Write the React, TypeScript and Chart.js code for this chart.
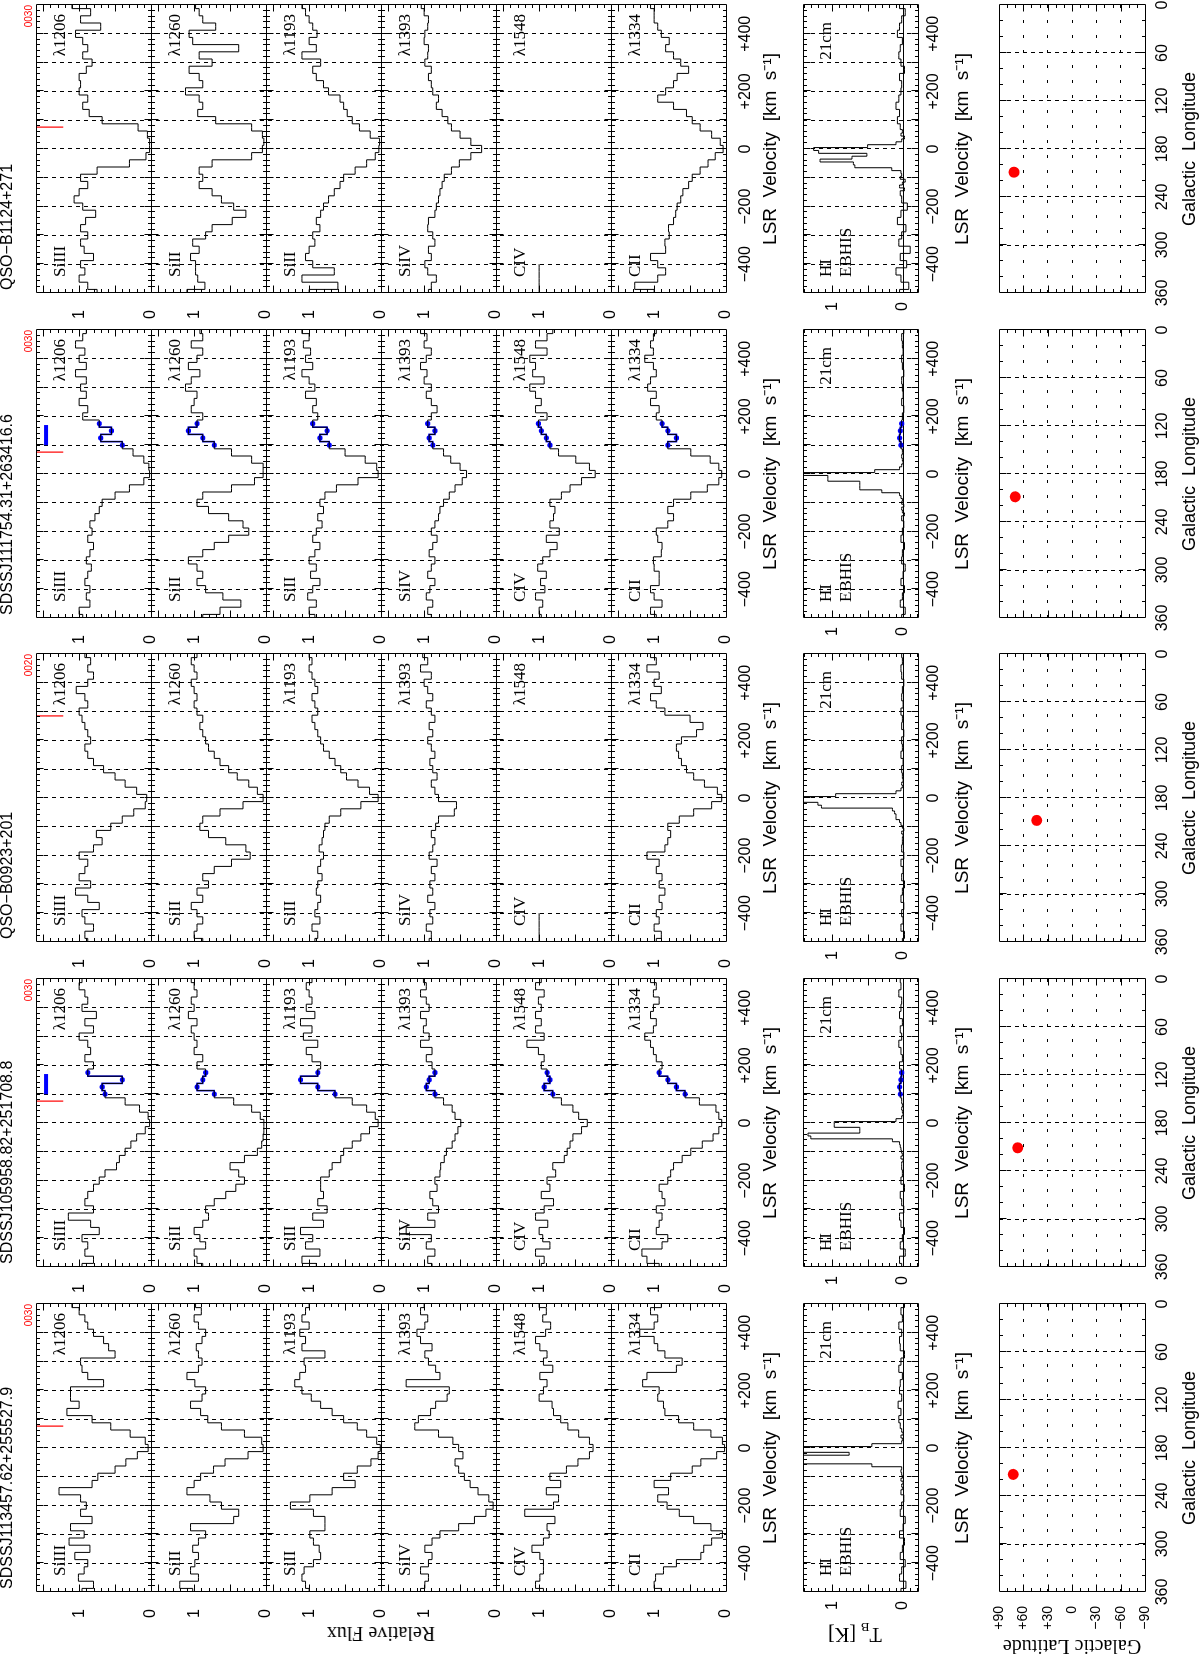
import React, { useEffect, useRef } from 'react';
import { Chart, registerables } from 'chart.js';

Chart.register(...registerables);

// ---------------- data ----------------
const VEL = [-500,-475,-450,-425,-400,-375,-350,-325,-300,-275,-250,-225,-200,-175,-150,-125,-100,-75,-50,-25,0,25,50,75,100,125,150,175,200,225,250,275,300,325,350,375,400,425,450,475,500];
const HI_VEL = [-500,-475,-450,-425,-400,-375,-350,-325,-300,-275,-250,-225,-200,-175,-150,-140,-130,-120,-110,-100,-90,-80,-70,-60,-50,-40,-30,-20,-10,0,10,20,30,40,50,60,75,100,125,150,175,200,225,250,275,300,325,350,375,400,425,450,475,500];

const SIGHTLINES = ['SDSSJ113457.62+255527.9', 'SDSSJ105958.82+251708.8', 'QSO\u2212B0923+201', 'SDSSJ111754.31+263416.6', 'QSO\u2212B1124+271'];
const SIGHTLINE_TAGS = ['0030', '0030', '0020', '0030', '0030'];
const ION_NAMES = ['SiIII', 'SiII', 'SiII', 'SiIV', 'CIV', 'CII'];
const ION_LINES = ['\u03BB1206', '\u03BB1260', '\u03BB1193', '\u03BB1393', '\u03BB1548', '\u03BB1334'];
const GAL_L = [213, 211, 208, 208.5, 209];
const GAL_B = [72.5, 67, 43.5, 70, 71.5];
const RED_MARK_V = [76, 76, 285, 76, 76];
const RED_MARK_FLUX = [1.6, 1.22];
const HAS_HVC = [false, true, false, true, false];
const HVC_BIN_VEL = [100, 125, 150, 175];
const HVC_BAR_V = [100, 170];
const HVC_BAR_FLUX = 1.46;
const VEL_TICKS = [-400, -300, -200, -100, 0, 100, 200, 300, 400];
const FLUX_TICKS = [0, 1];
const LON_TICKS = [0, 60, 120, 180, 240, 300, 360];
const LAT_TICKS = [-90, -60, -30, 0, 30, 60, 90];

const J1134_SIIII = [0.96,0.80,1.01,0.93,0.88,1.06,0.85,1.14,0.93,1.12,0.82,0.98,0.90,0.98,1.28,0.82,0.74,0.50,0.35,0.19,0.04,0.08,0.29,0.56,0.82,1.17,1.00,1.12,1.12,0.66,0.88,0.96,0.98,0.50,0.59,0.66,0.80,0.88,0.92,1.00,1.10];
const J1134_SIII1260 = [1.02,1.20,0.94,1.05,0.99,0.94,1.02,0.94,0.84,1.05,0.45,0.38,0.62,0.78,1.10,1.00,0.91,0.73,0.57,0.25,0.04,0.06,0.30,0.62,0.81,0.91,1.05,0.89,0.84,0.99,1.10,0.94,0.89,0.94,0.97,0.89,0.84,0.94,1.00,0.90,0.98];
const J1134_SIII1193 = [1.00,1.05,1.10,1.07,0.94,0.84,0.86,0.94,0.99,0.78,0.78,0.94,1.26,0.99,0.68,0.36,0.52,0.33,0.14,0.04,0.01,0.06,0.20,0.33,0.52,0.68,0.84,0.97,1.10,1.20,1.13,1.05,1.07,0.78,1.10,1.05,1.13,1.00,1.10,1.05,1.00];
const J1134_SIIV = [1.05,0.99,0.94,1.05,0.94,0.89,0.99,0.89,0.78,0.52,0.30,0.14,0.04,0.10,0.25,0.36,0.44,0.52,0.57,0.46,0.52,0.60,0.80,1.13,1.08,0.91,0.84,0.68,0.65,1.25,0.78,0.84,0.94,0.99,0.89,1.05,1.10,0.99,0.95,1.05,1.00];
const J1134_CIV = [0.94,1.05,0.99,0.94,0.94,0.99,1.10,0.94,0.86,0.89,0.78,1.20,0.80,0.73,0.90,0.70,0.85,0.62,0.46,0.30,0.25,0.30,0.45,0.60,0.70,0.80,0.82,1.00,0.94,0.89,0.99,0.81,0.94,0.89,0.99,1.05,0.91,0.84,0.95,0.90,1.00];
const J1134_CII = [0.90,1.00,0.98,0.87,0.69,0.35,0.31,0.20,0.05,0.21,0.45,0.65,0.82,0.95,0.80,1.00,0.77,0.47,0.35,0.13,0.02,0.05,0.21,0.45,0.66,0.85,0.87,0.95,0.93,1.16,1.10,0.69,0.61,0.85,0.95,1.00,1.20,1.00,0.95,1.05,0.90];

const J1059_SIIII = [0.96,0.80,0.92,0.88,0.96,0.72,0.84,1.15,0.80,0.92,0.88,0.80,0.72,0.64,0.48,0.44,0.36,0.28,0.20,0.08,0.02,0.04,0.16,0.36,0.64,0.68,0.40,0.88,0.80,0.92,0.84,0.88,1.00,0.80,0.92,0.76,0.96,0.88,0.92,1.00,0.96];
const J1059_SIII1260 = [0.88,0.96,1.00,0.84,0.92,1.00,0.88,0.80,0.84,0.72,0.56,0.42,0.30,0.38,0.50,0.30,0.12,0.06,0.04,0.03,0.03,0.08,0.20,0.45,0.72,0.96,0.88,0.84,0.96,0.88,1.00,0.96,1.00,1.04,0.96,1.08,1.00,1.04,0.96,1.00,1.04];
const J1059_SIII1193 = [0.90,1.10,0.85,1.05,0.95,1.12,0.80,0.95,0.75,0.88,0.80,0.84,0.84,0.72,0.68,0.56,0.52,0.40,0.28,0.16,0.04,0.08,0.20,0.40,0.64,0.88,1.12,0.88,0.84,0.96,1.04,0.88,1.08,0.96,1.12,0.92,1.04,0.96,1.00,1.04,0.96];
const J1059_SIIV = [0.89,0.95,0.85,0.97,0.90,1.25,0.85,0.95,0.80,0.88,0.92,0.82,0.85,0.78,0.77,0.72,0.69,0.61,0.57,0.53,0.49,0.57,0.61,0.73,0.85,0.97,0.93,0.85,0.89,0.97,0.89,1.05,0.93,1.01,0.97,1.05,0.93,0.97,1.05,0.97,1.01];
const J1059_CIV = [0.97,0.93,1.05,0.85,0.95,1.00,0.88,1.05,0.93,0.80,0.97,0.85,0.89,0.77,0.81,0.65,0.61,0.57,0.53,0.41,0.33,0.45,0.53,0.69,0.81,0.93,0.85,0.89,0.97,0.93,1.01,1.17,0.93,1.05,0.97,1.05,0.97,1.01,0.93,1.05,0.97];
const J1059_CII = [0.93,1.10,1.17,0.89,0.81,0.97,0.93,0.89,0.97,0.85,0.89,0.93,0.81,0.77,0.73,0.61,0.49,0.33,0.18,0.10,0.06,0.10,0.14,0.37,0.57,0.69,0.81,0.93,0.89,0.97,1.01,1.05,1.13,1.01,0.97,1.05,1.01,0.93,1.01,0.97,1.05];

const B0923_SIIII = [0.88,0.92,0.80,0.92,0.96,0.72,0.88,1.05,0.84,1.00,0.92,0.88,1.00,0.80,0.68,0.76,0.56,0.40,0.24,0.08,0.06,0.20,0.36,0.50,0.66,0.80,0.88,0.92,0.84,0.88,0.92,0.96,1.00,0.88,0.92,1.04,0.88,0.80,0.88,0.84,0.92];
const B0923_SIII1260 = [0.88,1.00,0.96,0.88,0.96,1.04,0.88,0.96,0.80,0.88,0.72,0.48,0.22,0.28,0.56,0.80,0.92,0.88,0.64,0.32,0.04,0.12,0.24,0.40,0.52,0.64,0.72,0.80,0.84,0.88,0.92,0.88,0.96,1.00,0.96,1.00,1.04,0.96,1.00,1.04,0.96];
const B0923_SIII1193 = [0.92,0.88,0.96,0.85,0.92,0.88,0.84,0.90,0.88,0.82,0.88,0.84,0.80,0.86,0.82,0.80,0.78,0.72,0.56,0.28,0.04,0.16,0.32,0.48,0.56,0.64,0.72,0.80,0.84,0.88,0.92,0.96,0.88,0.92,0.96,0.88,0.92,0.96,1.00,0.96,1.00];
const B0923_SIIV = [0.93,0.90,0.97,0.88,0.92,0.85,0.95,0.88,0.92,0.85,0.90,0.82,0.93,0.88,0.85,0.90,0.84,0.80,0.58,0.55,0.80,0.85,0.90,0.82,0.88,0.92,0.85,0.90,0.95,0.88,0.93,0.85,0.90,0.97,0.88,0.95,1.00,0.90,1.05,0.95,1.02];
const B0923_CIV = [1,1,1,1,1,null,null,null,null,null,null,null,null,null,null,null,null,null,null,null,null,null,null,null,null,null,null,null,null,null,null,null,null,null,null,null,null,null,null,null,null];
const B0923_CII = [0.97,0.90,1.00,0.93,0.97,0.89,0.93,0.85,0.93,0.89,0.97,0.93,1.10,0.85,0.81,0.77,0.81,0.65,0.45,0.20,0.06,0.12,0.30,0.45,0.55,0.62,0.66,0.69,0.62,0.41,0.32,0.50,0.85,0.97,1.05,0.90,1.00,0.93,1.10,0.97,1.05];

const J1117_SIIII = [0.95,1.00,0.85,0.90,0.85,0.92,0.88,0.83,0.90,0.85,0.80,0.88,0.82,0.85,0.78,0.72,0.68,0.50,0.30,0.10,0.02,0.03,0.10,0.25,0.40,0.70,0.55,0.72,0.95,0.88,1.00,0.90,0.98,0.90,1.05,0.90,1.00,0.92,1.05,0.95,0.90];
const J1117_SIII1260 = [0.88,0.64,0.35,0.60,0.84,0.96,0.88,0.96,1.08,0.88,0.72,0.52,0.24,0.32,0.52,0.80,0.96,0.88,0.48,0.16,0.04,0.04,0.20,0.48,0.72,0.88,1.08,0.96,0.88,1.04,1.00,0.96,1.12,1.04,0.92,1.08,0.96,0.88,1.04,0.88,0.92];
const J1117_SIII1193 = [0.92,1.00,0.90,1.02,0.95,0.85,0.98,0.90,1.00,0.92,0.85,0.95,0.90,0.82,0.88,0.80,0.85,0.78,0.62,0.32,0.04,0.06,0.22,0.50,0.72,0.85,0.75,0.95,0.88,0.95,0.90,1.05,0.92,1.00,1.10,0.95,1.05,0.98,1.08,1.00,1.10];
const J1117_SIIV = [0.90,0.95,0.88,0.97,0.92,0.85,0.95,0.90,0.85,0.93,0.88,0.82,0.90,0.85,0.80,0.78,0.73,0.65,0.57,0.47,0.41,0.50,0.63,0.73,0.88,0.93,0.85,0.95,0.90,0.82,0.90,0.97,0.90,1.00,0.96,1.05,0.97,0.90,1.00,0.96,1.05];
const J1117_CIV = [0.97,1.00,0.95,1.05,0.92,0.98,0.90,1.02,0.95,0.85,0.75,0.90,0.72,0.85,0.80,0.78,0.85,0.69,0.57,0.41,0.22,0.30,0.49,0.73,0.85,0.90,0.97,1.01,0.89,1.05,0.97,1.05,1.13,0.93,1.09,1.05,1.13,0.89,1.05,0.89,0.81];
const J1117_CII = [0.97,1.05,0.89,1.00,1.05,0.93,0.93,1.00,1.01,0.90,0.89,0.95,0.97,0.81,0.73,0.81,0.73,0.49,0.26,0.10,0.06,0.10,0.22,0.49,0.81,0.69,0.81,0.89,0.97,0.93,1.05,0.97,1.09,1.05,0.97,1.01,1.13,1.01,1.05,1.01,0.97];

const B1124_SIIII = [0.75,0.88,1.00,0.92,0.98,0.80,0.93,0.98,0.88,0.98,0.91,0.77,0.95,1.07,1.00,0.88,0.98,0.75,0.30,0.07,0.02,0.02,0.05,0.18,0.68,0.86,0.95,0.88,1.00,0.98,1.00,0.90,0.82,0.95,0.88,0.95,1.05,0.70,0.98,0.84,1.10];
const B1124_SIII1260 = [1.10,0.85,0.95,0.98,0.98,1.05,0.93,1.02,0.84,0.75,0.47,0.28,0.45,0.62,0.75,0.93,0.88,0.93,0.75,0.20,0.05,0.03,0.05,0.20,0.70,0.95,0.88,0.93,1.12,0.88,0.93,1.07,0.75,0.93,0.38,1.02,1.07,0.70,0.88,0.93,0.98];
const B1124_SIII1193 = [1.00,0.60,1.10,0.65,0.95,1.05,1.00,0.92,0.95,0.85,0.90,0.84,0.80,0.73,0.65,0.57,0.52,0.36,0.20,0.08,0.03,0.02,0.15,0.30,0.40,0.47,0.52,0.57,0.73,0.80,0.90,0.95,0.84,1.10,0.90,1.00,0.89,0.95,1.00,1.05,1.10];
const B1124_SIIV = [0.94,0.90,0.83,0.95,0.99,0.90,0.94,0.85,0.88,0.95,0.94,0.85,0.83,0.80,0.78,0.75,0.72,0.62,0.51,0.35,0.20,0.35,0.50,0.62,0.67,0.75,0.83,0.80,0.88,0.90,0.94,0.90,0.99,0.95,0.94,1.00,0.99,0.95,0.94,1.00,1.04];
const B1124_CIV = [1,1,1,1,1,null,null,null,null,null,null,null,null,null,null,null,null,null,null,null,null,null,null,null,null,null,null,null,null,null,null,null,null,null,null,null,null,null,null,null,null];
const B1124_CII = [1.00,1.27,0.95,0.84,0.95,1.05,0.84,0.85,0.79,0.80,0.73,0.70,0.68,0.63,0.60,0.52,0.47,0.36,0.25,0.15,0.04,0.08,0.20,0.36,0.47,0.55,0.73,0.95,0.84,0.73,0.68,0.52,0.63,0.73,0.84,0.79,0.90,0.95,1.00,1.00,1.05];

const J1134_HI = [0.03,-0.04,0.05,0.02,-0.03,0.04,0.01,-0.02,0.05,0.00,-0.03,0.04,0.02,-0.01,0.03,0.01,0.02,0.00,0.03,0.01,0.02,0.03,0.02,0.44,1.60,1.60,1.60,0.76,1.60,1.60,0.44,0.02,0.01,0.03,0.00,0.02,0.04,0.06,0.03,0.07,0.02,0.05,0.04,0.01,0.06,0.03,-0.02,0.04,0.05,0.02,0.06,0.01,0.03,-0.02];
const J1059_HI = [0.02,0.05,-0.03,0.04,0.01,-0.02,0.03,0.05,-0.01,0.02,0.04,-0.02,0.03,0.01,0.02,0.02,0.00,0.03,0.01,0.02,0.03,0.04,0.05,0.15,1.30,1.34,0.61,0.61,0.97,0.97,0.10,0.02,0.00,0.01,0.02,0.01,0.02,0.04,0.05,0.03,0.02,0.05,0.01,0.03,0.06,0.02,0.04,0.01,0.05,0.03,0.02,0.06,0.03,0.04];
const B0923_HI = [0.01,-0.02,0.03,0.00,0.02,-0.01,0.03,0.01,-0.02,0.02,0.00,0.03,-0.01,0.02,0.01,0.01,0.00,0.02,-0.01,0.01,0.03,0.05,0.10,0.10,0.12,0.15,1.15,1.20,1.60,1.60,0.95,0.10,0.03,0.01,0.02,0.00,0.01,0.02,0.00,0.03,0.01,0.02,-0.01,0.02,0.01,0.03,0.00,0.02,0.01,-0.01,0.02,0.03,0.01,0.02];
const J1117_HI = [0.02,-0.03,0.04,0.01,-0.02,0.03,0.00,-0.03,0.02,0.01,-0.02,0.03,0.01,-0.01,0.02,-0.02,0.01,0.02,-0.01,0.02,0.01,0.03,0.05,0.30,0.61,0.61,0.61,1.06,1.06,1.60,0.40,0.05,0.02,0.00,0.01,0.02,0.01,0.03,0.05,0.04,0.02,0.01,-0.01,0.02,0.00,0.01,0.02,-0.01,0.01,0.02,0.00,0.01,0.02,-0.01];
const B1124_HI = [0.05,-0.08,0.03,0.10,-0.05,0.04,-0.10,0.06,0.02,-0.04,0.08,0.03,-0.06,0.02,0.04,-0.02,0.05,0.01,-0.03,0.04,0.02,0.03,0.16,0.68,0.70,1.17,0.72,0.51,1.19,1.26,0.50,0.10,0.02,-0.02,0.03,0.01,0.04,0.08,0.05,0.10,0.06,0.03,0.02,0.05,-0.02,0.03,0.06,0.04,0.01,0.08,0.05,0.02,-0.03,0.05];

// tables built from the arrays (column order left -> right)
const SPECTRA = [
  [J1134_SIIII, J1134_SIII1260, J1134_SIII1193, J1134_SIIV, J1134_CIV, J1134_CII],
  [J1059_SIIII, J1059_SIII1260, J1059_SIII1193, J1059_SIIV, J1059_CIV, J1059_CII],
  [B0923_SIIII, B0923_SIII1260, B0923_SIII1193, B0923_SIIV, B0923_CIV, B0923_CII],
  [J1117_SIIII, J1117_SIII1260, J1117_SIII1193, J1117_SIIV, J1117_CIV, J1117_CII],
  [B1124_SIIII, B1124_SIII1260, B1124_SIII1193, B1124_SIIV, B1124_CIV, B1124_CII],
];
const HI_SPECTRA = [J1134_HI, J1059_HI, B0923_HI, J1117_HI, B1124_HI];

// ---------------- layout (unrotated figure, later turned 90deg) ----------------
const FIG_W = 1655;
const FIG_H = 1200;
const COL_LEFT = [63, 388, 713, 1037, 1362];
const PANEL_W = 288;
const SPEC_TOP = 36;
const SPEC_PANEL_H = 115;
const N_ION = 6;
const HI_TOP = 803;
const HI_H = 115;
const MAP_TOP = 999;
const MAP_H = 146;
const PAD_TOP = 30;
const AXIS_W = 40;
const XAXIS_H = 60;
const SANS = '"Liberation Sans", Arial, Helvetica, sans-serif';
const SERIF = '"Liberation Serif", "Times New Roman", serif';

const fmtVel = (v: number) => (v > 0 ? '+' + v : v < 0 ? '\u2212' + (-v) : '0');
const fmtLat = (v: number) => (v > 0 ? '+' + v : v < 0 ? '\u2212' + (-v) : '0');
const isMult = (v: number, m: number) => Math.abs(v / m - Math.round(v / m)) < 1e-6;

const framePlugin = {
  id: 'frame',
  afterDraw(chart: any, _args: any, opts: any) {
    const { ctx, chartArea } = chart;
    const xs = chart.scales.x;
    const px = (v: number) => Math.round(v) + 0.5;
    ctx.save();
    ctx.strokeStyle = '#000';
    ctx.lineWidth = 1;
    const L = px(chartArea.left);
    const R = px(chartArea.right);
    for (const id of opts.yIds) {
      const ys = chart.scales[id];
      const T = px(ys.top);
      const B = px(ys.bottom);
      ctx.beginPath();
      ctx.rect(L, T, R - L, B - T);
      const xLo = Math.min(xs.min, xs.max);
      const xHi = Math.max(xs.min, xs.max);
      for (let n = Math.ceil(xLo / opts.xMinor - 1e-9); n <= Math.floor(xHi / opts.xMinor + 1e-9); n++) {
        const v = n * opts.xMinor;
        const p = px(xs.getPixelForValue(v));
        if (Math.abs(p - L) < 1 || Math.abs(p - R) < 1) continue;
        const len = isMult(v, opts.xMajor) ? 7 : 3.5;
        ctx.moveTo(p, T); ctx.lineTo(p, T + len);
        ctx.moveTo(p, B); ctx.lineTo(p, B - len);
      }
      for (let n = Math.ceil(ys.min / opts.yMinor - 1e-9); n <= Math.floor(ys.max / opts.yMinor + 1e-9); n++) {
        const v = n * opts.yMinor;
        const p = px(ys.getPixelForValue(v));
        if (Math.abs(p - T) < 1 || Math.abs(p - B) < 1) continue;
        const len = isMult(v, opts.yMajor) ? 7 : 3.5;
        ctx.moveTo(L, p); ctx.lineTo(L + len, p);
        ctx.moveTo(R, p); ctx.lineTo(R - len, p);
      }
      ctx.stroke();
    }
    ctx.restore();
  },
};

function velAxis(tickPad: number) {
  return {
    type: 'linear', position: 'bottom', min: -500, max: 500,
    afterBuildTicks: (s: any) => { s.ticks = VEL_TICKS.map((v) => ({ value: v })); },
    afterFit: (s: any) => { s.height = XAXIS_H; },
    grid: { display: true, drawTicks: false, color: '#000', lineWidth: 1 },
    border: { display: false, dash: [4, 4] },
    ticks: {
      autoSkip: false, maxRotation: 0, minRotation: 0, padding: tickPad, color: '#000',
      font: { family: SANS, size: 16 },
      callback: (v: number) => (v % 200 === 0 ? fmtVel(v) : ''),
    },
    title: {
      display: true, text: 'LSR  Velocity  [km  s\u207B\u00B9]', color: '#000',
      font: { family: SANS, size: 19 }, padding: { top: 0, bottom: 4 },
    },
  };
}

function baseOptions(padRight: number) {
  return {
    animation: false,
    responsive: false,
    events: [],
    layout: { padding: { top: PAD_TOP, right: padRight, bottom: 0, left: 0 } },
  };
}

function spectralConfig(c: number) {
  const spectra = SPECTRA[c];
  const datasets: any[] = [];
  const scales: any = { x: velAxis(10) };
  spectra.forEach((arr, i) => {
    const id = 'y' + i;
    scales[id] = {
      type: 'linear', position: 'left', stack: 'spec', stackWeight: 1, weight: 10 - i,
      min: 0, max: 1.6,
      afterBuildTicks: (s: any) => { s.ticks = FLUX_TICKS.map((v) => ({ value: v })); },
      afterFit: (s: any) => { s.width = AXIS_W; },
      grid: { display: false },
      border: { display: false },
      ticks: { autoSkip: false, padding: 9, color: '#000', font: { family: SANS, size: 16 }, callback: (v: number) => String(v) },
    };
    datasets.push({
      data: VEL.map((v, k) => ({ x: v, y: arr[k] })),
      xAxisID: 'x', yAxisID: id, borderColor: '#000', borderWidth: 1,
      pointRadius: 0, stepped: 'middle', spanGaps: false, fill: false,
    });
    if (HAS_HVC[c]) {
      datasets.push({
        data: HVC_BIN_VEL.map((v) => ({ x: v, y: arr[VEL.indexOf(v)] })),
        xAxisID: 'x', yAxisID: id, borderColor: '#0000ff', backgroundColor: '#0000ff',
        borderWidth: 1.6, pointRadius: 2.6, pointBorderWidth: 0, stepped: 'middle', fill: false,
      });
    }
  });
  datasets.push({
    data: RED_MARK_FLUX.map((f) => ({ x: RED_MARK_V[c], y: f })),
    xAxisID: 'x', yAxisID: 'y0', borderColor: '#ff0000', borderWidth: 1.2, pointRadius: 0, fill: false,
  });
  if (HAS_HVC[c]) {
    datasets.push({
      data: HVC_BAR_V.map((v) => ({ x: v, y: HVC_BAR_FLUX })),
      xAxisID: 'x', yAxisID: 'y0', borderColor: '#0000ff', borderWidth: 4, pointRadius: 0,
      borderCapStyle: 'butt', fill: false,
    });
  }
  return {
    type: 'line',
    data: { datasets },
    options: {
      ...baseOptions(6),
      scales,
      plugins: {
        legend: { display: false }, tooltip: { enabled: false },
        frame: { yIds: spectra.map((_a, i) => 'y' + i), xMinor: 20, xMajor: 100, yMinor: 0.1, yMajor: 0.5 },
      },
    },
    plugins: [framePlugin],
  };
}

function hiConfig(c: number) {
  const arr = HI_SPECTRA[c];
  const datasets: any[] = [{
    data: HI_VEL.map((v, k) => ({ x: v, y: arr[k] })),
    borderColor: '#000', borderWidth: 1, pointRadius: 0, stepped: 'middle', fill: false,
  }];
  if (HAS_HVC[c]) {
    datasets.push({
      data: HVC_BIN_VEL.map((v) => ({ x: v, y: arr[HI_VEL.indexOf(v)] })),
      borderColor: '#0000ff', backgroundColor: '#0000ff', borderWidth: 1.6, pointRadius: 2.6,
      pointBorderWidth: 0, stepped: 'middle', fill: false,
    });
  }
  return {
    type: 'line',
    data: { datasets },
    options: {
      ...baseOptions(6),
      scales: {
        x: velAxis(6),
        y: {
          type: 'linear', position: 'left', min: -0.21, max: 1.41,
          afterBuildTicks: (s: any) => { s.ticks = FLUX_TICKS.map((v) => ({ value: v })); },
          afterFit: (s: any) => { s.width = AXIS_W; },
          grid: {
            display: true, drawTicks: false, lineWidth: 1,
            color: (ctx: any) => (ctx.tick && ctx.tick.value === 0 ? '#000' : 'rgba(0,0,0,0)'),
          },
          border: { display: false },
          ticks: { autoSkip: false, padding: 9, color: '#000', font: { family: SANS, size: 16 }, callback: (v: number) => String(v) },
        },
      },
      plugins: {
        legend: { display: false }, tooltip: { enabled: false },
        frame: { yIds: ['y'], xMinor: 20, xMajor: 100, yMinor: 0.1, yMajor: 0.5 },
      },
    },
    plugins: [framePlugin],
  };
}

function mapConfig(c: number) {
  return {
    type: 'scatter',
    data: {
      datasets: [{
        data: [{ x: GAL_L[c], y: GAL_B[c] }],
        pointRadius: 5.5, backgroundColor: '#ff0000', borderColor: '#ff0000', pointBorderWidth: 0,
      }],
    },
    options: {
      ...baseOptions(16),
      scales: {
        x: {
          type: 'linear', position: 'bottom', min: 0, max: 360, reverse: true,
          afterBuildTicks: (s: any) => { s.ticks = LON_TICKS.map((v) => ({ value: v })); },
          afterFit: (s: any) => { s.height = XAXIS_H; },
          grid: {
            display: true, drawTicks: false, lineWidth: 1,
            color: (ctx: any) => (ctx.tick && (ctx.tick.value === 0 || ctx.tick.value === 360) ? 'rgba(0,0,0,0)' : '#000'),
          },
          border: { display: false, dash: [4, 4] },
          ticks: { autoSkip: false, maxRotation: 0, minRotation: 0, padding: 8, color: '#000', font: { family: SANS, size: 16 }, callback: (v: number) => String(v) },
          title: { display: true, text: 'Galactic  Longitude', color: '#000', font: { family: SANS, size: 18 }, padding: { top: 0, bottom: 4 } },
        },
        y: {
          type: 'linear', position: 'left', min: -90, max: 90,
          afterBuildTicks: (s: any) => { s.ticks = LAT_TICKS.map((v) => ({ value: v })); },
          afterFit: (s: any) => { s.width = AXIS_W; },
          grid: {
            display: true, drawTicks: false, lineWidth: 1,
            color: (ctx: any) => (ctx.tick && Math.abs(ctx.tick.value) === 90 ? 'rgba(0,0,0,0)' : '#000'),
          },
          border: { display: false, dash: [3, 12] },
          ticks: { display: c === 0, autoSkip: false, padding: 14, color: '#000', font: { family: SANS, size: 14 }, callback: (v: number) => fmtLat(v) },
        },
      },
      plugins: {
        legend: { display: false }, tooltip: { enabled: false },
        frame: { yIds: ['y'], xMinor: 20, xMajor: 60, yMinor: 10, yMajor: 30 },
      },
    },
    plugins: [framePlugin],
  };
}

function ChartBox(props: { left: number; top: number; width: number; height: number; make: () => any }) {
  const ref = useRef<HTMLCanvasElement | null>(null);
  useEffect(() => {
    if (!ref.current) return undefined;
    const chart = new Chart(ref.current, props.make());
    return () => { chart.destroy(); };
  }, []);
  const { left, top, width, height } = props;
  return (
    <canvas
      ref={ref}
      width={width}
      height={height}
      style={{ position: 'absolute', left, top, width, height }}
    />
  );
}

const txt = (extra: any): any => ({ position: 'absolute', whiteSpace: 'nowrap', color: '#000', ...extra });

export default function App() {
  const charts: any[] = [];
  const labels: any[] = [];
  COL_LEFT.forEach((xl, c) => {
    const xr = xl + PANEL_W;
    charts.push(
      <ChartBox key={'s' + c} left={xl - AXIS_W} top={SPEC_TOP - PAD_TOP} width={AXIS_W + PANEL_W + 6}
        height={PAD_TOP + SPEC_PANEL_H * N_ION + XAXIS_H} make={() => spectralConfig(c)} />,
    );
    charts.push(
      <ChartBox key={'h' + c} left={xl - AXIS_W} top={HI_TOP - PAD_TOP} width={AXIS_W + PANEL_W + 6}
        height={PAD_TOP + HI_H + XAXIS_H} make={() => hiConfig(c)} />,
    );
    charts.push(
      <ChartBox key={'m' + c} left={xl - AXIS_W} top={MAP_TOP - PAD_TOP} width={AXIS_W + PANEL_W + 16}
        height={PAD_TOP + MAP_H + XAXIS_H} make={() => mapConfig(c)} />,
    );
    labels.push(
      <div key={'t' + c} style={txt({ left: xl + 3, top: -1, font: `16px ${SANS}`, lineHeight: '16px' })}>{SIGHTLINES[c]}</div>,
    );
    labels.push(
      <div key={'g' + c} style={txt({ right: FIG_W - xr, top: 24, font: `10px ${SANS}`, lineHeight: '10px', color: '#ff0000' })}>{SIGHTLINE_TAGS[c]}</div>,
    );
    ION_NAMES.forEach((name, i) => {
      const top = SPEC_TOP + SPEC_PANEL_H * i + 15;
      labels.push(
        <div key={'i' + c + '_' + i} style={txt({ left: xl + 16, top, font: `17px ${SERIF}`, lineHeight: '17px' })}>{name}</div>,
      );
      labels.push(
        <div key={'l' + c + '_' + i} style={txt({ right: FIG_W - (xr - 9), top, font: `17px ${SERIF}`, lineHeight: '17px' })}>{ION_LINES[i]}</div>,
      );
    });
    labels.push(
      <div key={'hi' + c} style={txt({ left: xl + 16, top: HI_TOP + 14, font: `17px ${SERIF}`, lineHeight: '17px' })}>HI</div>,
    );
    labels.push(
      <div key={'eb' + c} style={txt({ left: xl + 16, top: HI_TOP + 34, font: `17px ${SERIF}`, lineHeight: '17px' })}>EBHIS</div>,
    );
    labels.push(
      <div key={'cm' + c} style={txt({ right: FIG_W - (xr - 17), top: HI_TOP + 14, font: `17px ${SERIF}`, lineHeight: '17px' })}>21cm</div>,
    );
  });

  const vlabel = (key: string, x: number, y: number, content: any) => (
    <div key={key} style={txt({ left: x, top: y, font: `20px ${SERIF}`, lineHeight: '20px', transform: 'translate(-50%, -50%) rotate(-90deg)' })}>{content}</div>
  );
  labels.push(vlabel('rf', 21, SPEC_TOP + (SPEC_PANEL_H * N_ION) / 2, 'Relative  Flux'));
  labels.push(vlabel('tb', 24, HI_TOP + HI_H / 2 - 6, <span>T<sub style={{ fontSize: '13px' }}>B</sub> [K]</span>));
  labels.push(vlabel('gl', 8, MAP_TOP + MAP_H / 2, 'Galactic  Latitude'));

  return (
    <div style={{ position: 'absolute', left: 0, top: 0, width: FIG_H, height: FIG_W, overflow: 'hidden', background: '#fff' }}>
      <div
        style={{
          position: 'absolute', left: 0, top: 0, width: FIG_W, height: FIG_H,
          transformOrigin: '0 0', transform: `translate(0px, ${FIG_W}px) rotate(-90deg)`,
        }}
      >
        {charts}
        {labels}
      </div>
    </div>
  );
}
